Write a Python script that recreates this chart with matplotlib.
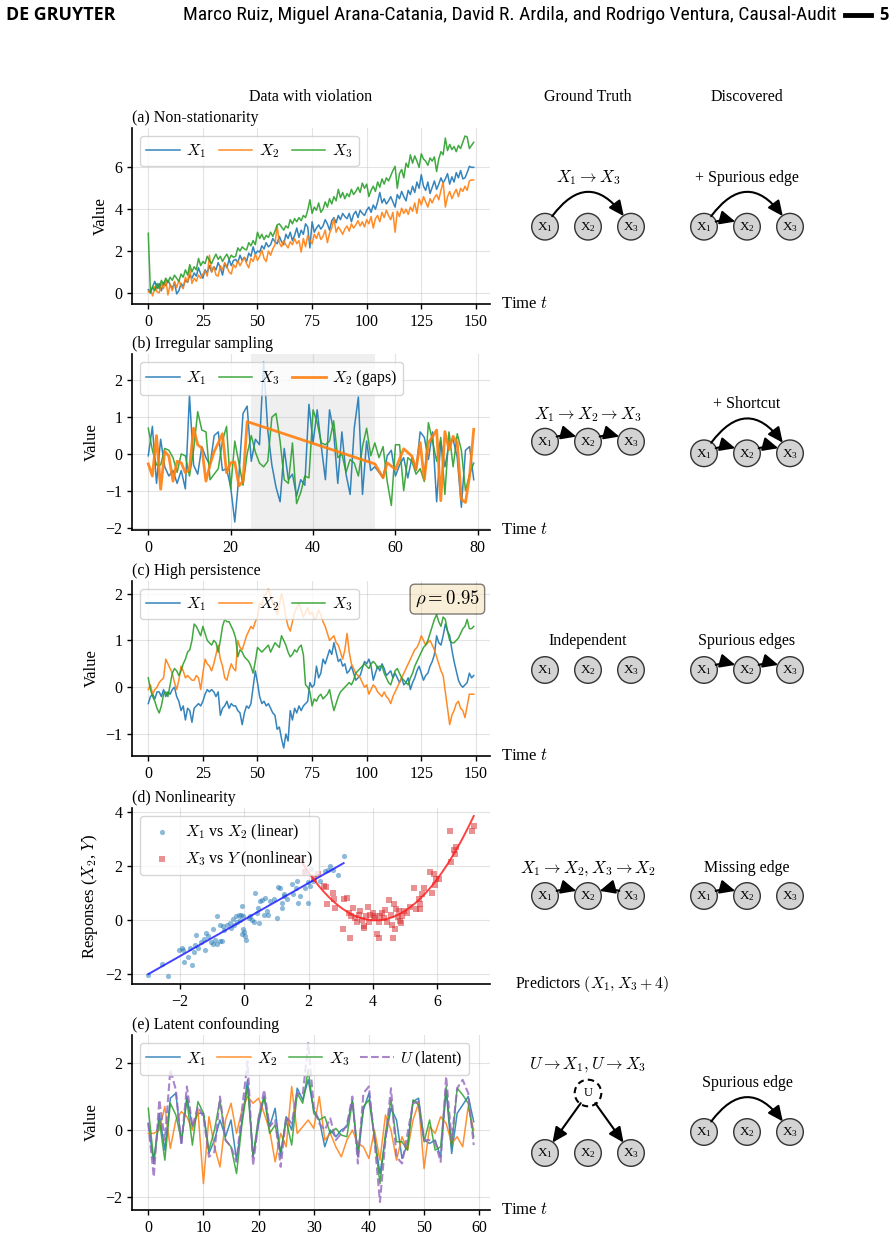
import numpy as np
import matplotlib
matplotlib.use("Agg")
import matplotlib.pyplot as plt
from matplotlib.patches import Circle, FancyArrowPatch
from matplotlib.lines import Line2D
from matplotlib import font_manager

# ======================= DATA =======================
# (a) Non-stationarity, t = 0..149
A_X1 = [0.15, 0.0, 0.3, 0.55, 0.2, 0.45, 0.1, 0.5, 0.35, 0.6,
        0.4, 0.2, 0.5, -0.05, 0.1, 0.45, 0.3, 0.6, 0.5, 0.85,
        0.7, 0.95, 0.8, 1.2, 0.9, 0.7, 1.1, 0.95, 1.3, 1.0,
        1.25, 1.1, 1.45, 1.2, 0.85, 1.4, 1.2, 1.6, 1.3, 1.55,
        1.6, 1.45, 1.8, 1.55, 1.7, 1.5, 1.9, 1.75, 2.2, 1.85,
        2.0, 1.95, 2.25, 2.1, 2.4, 2.2, 2.3, 2.6, 2.45, 2.35,
        2.7, 2.45, 2.3, 2.8, 2.6, 2.9, 2.5, 2.75, 3.1, 2.65,
        3.0, 2.8, 3.3, 3.15, 2.15, 3.4, 2.9, 3.1, 3.25, 3.05,
        3.2, 3.5, 3.3, 3.0, 3.45, 3.6, 3.35, 3.7, 3.5, 3.8,
        3.65, 3.55, 3.8, 3.4, 3.75, 3.9, 3.6, 3.95, 3.8, 3.7,
        3.95, 4.1, 3.85, 4.2, 4.0, 4.35, 4.8, 4.3, 4.5, 4.25,
        4.4, 4.6, 4.35, 4.1, 4.7, 4.5, 4.85, 4.6, 4.4, 4.9,
        4.7, 5.1, 4.8, 5.3, 5.0, 5.65, 5.1, 4.9, 5.3, 4.75,
        5.05, 5.35, 4.95, 5.2, 5.5, 5.25, 5.45, 5.7, 5.2, 5.55,
        5.3, 5.75, 5.5, 5.85, 5.45, 5.5, 5.75, 6.05, 6.0, 6.0]
A_X2 = [0.05, 0.15, -0.15, 0.3, 0.05, 0.0, 0.45, 0.2, 0.65, -0.1,
        0.4, 0.1, 0.55, 0.25, 0.6, 0.35, 0.2, 0.75, 0.5, 1.15,
        0.45, 0.7, 0.55, 0.85, 0.7, 0.9, 1.05, 0.8, 1.8, 1.0,
        1.25, 0.85, 0.8, 1.3, 1.1, 1.45, 1.25, 1.0, 0.9, 1.35,
        1.2, 1.55, 1.3, 1.5, 1.7, 1.4, 1.2, 1.65, 1.5, 1.85,
        1.55, 1.75, 2.05, 1.65, 1.5, 2.0, 1.8, 2.1, 2.3, 3.2,
        2.4, 2.2, 2.5, 2.3, 2.15, 2.45, 2.3, 2.6, 2.35, 2.5,
        1.95, 2.6, 2.2, 2.75, 2.5, 2.35, 2.8, 2.6, 2.9, 2.55,
        2.7, 3.0, 2.4, 2.85, 3.1, 3.55, 2.9, 3.15, 3.0, 2.8,
        3.05, 3.2, 2.95, 3.3, 3.1, 3.25, 3.45, 3.2, 3.4, 3.15,
        3.5, 3.3, 3.65, 3.1, 3.55, 3.7, 3.4, 3.85, 3.6, 3.95,
        3.7, 3.5, 3.85, 2.9, 3.9, 3.65, 4.05, 3.8, 4.0, 3.75,
        4.1, 3.9, 4.3, 3.8, 4.5, 4.2, 4.6, 4.35, 4.1, 4.5,
        4.3, 4.55, 4.7, 4.45, 4.9, 5.3, 4.1, 4.6, 4.85, 4.5,
        4.75, 4.95, 4.6, 5.0, 4.85, 5.1, 4.9, 5.35, 5.4, 5.4]
A_X3 = [2.85, 0.0, 0.3, 0.1, 0.45, 0.2, 0.6, 0.4, 0.7, 0.5,
        0.75, 0.6, 0.85, 0.7, 0.55, 0.9, 0.75, 1.1, 0.85, 1.35,
        1.0, 1.25, 1.1, 1.65, 1.3, 1.5, 1.4, 1.75, 1.55, 1.4,
        1.65, 1.85, 1.6, 1.75, 1.5, 1.7, 1.85, 1.6, 1.8, 1.7,
        1.75, 2.15, 2.0, 2.2, 2.1, 2.05, 2.4, 2.25, 2.5, 2.3,
        2.9, 2.6, 2.8, 2.55, 2.75, 2.65, 2.9, 2.7, 2.95, 3.25,
        3.3, 3.15, 3.0, 3.2, 3.1, 3.5, 3.3, 3.55, 3.4, 3.6,
        3.45, 3.7, 3.6, 3.95, 4.45, 3.8, 4.1, 3.95, 4.3, 3.85,
        4.0, 4.35, 4.1, 4.5, 4.25, 4.6, 4.4, 4.95, 4.55, 4.8,
        4.5, 4.75, 4.6, 4.95, 4.7, 4.85, 5.05, 4.8, 5.25, 5.0,
        5.2, 4.6, 4.9, 5.1, 4.85, 5.3, 5.05, 5.45, 5.2, 5.5,
        5.35, 5.6, 5.85, 6.05, 5.0, 5.7, 5.9, 5.5, 6.2, 6.0,
        6.6, 6.2, 6.55, 6.3, 6.0, 6.65, 6.4, 6.3, 6.1, 6.45,
        6.3, 6.5, 5.8, 6.4, 6.75, 6.6, 7.4, 6.8, 7.1, 6.85,
        7.0, 6.75, 7.05, 6.9, 7.2, 7.5, 7.45, 6.9, 7.05, 7.2]

# (b) Irregular sampling, t = 0..79 ; X2 observed only at B_X2_T
B_X1 = [-0.05, 0.75, -0.8, 0.4, -0.35, -0.6, -0.45, -0.8, -0.45, -0.95,
        1.6, -0.3, -0.55, 0.2, -0.1, -0.3, 0.5, 0.6, -0.45, -0.4,
        -0.9, -1.85, -0.6, 1.1, 1.3, -0.2, 0.4, 0.25, 2.5, 0.65,
        -0.3, -0.9, -1.3, 0.15, -0.7, -0.55, -1.15, -0.7, -0.85, 1.35,
        0.3, 1.2, 0.2, -0.7, 1.2, 0.6, -0.8, 0.6, -0.55, -1.1,
        0.7, 1.55, -1.1, 0.35, -0.45, -0.35, -0.5, -0.65, -0.05, 0.1,
        -0.6, -0.3, -0.1, -0.65, -0.1, -0.45, 0.6, 0.45, -0.15, 0.6,
        -1.3, 0.35, -0.35, 0.25, 0.4, -0.1, -1.45, 0.1, 0.2, -0.7]
B_X3 = [0.7, 0.1, -0.3, -0.3, 0.15, 0.1, -0.1, -0.5, 0.0, -0.05,
        -0.6, 0.1, 1.15, 0.65, 0.6, -0.7, -0.55, -0.4, 0.35, 0.75,
        -0.95, 0.35, -0.25, -0.85, 0.0, 0.5, 0.05, -0.25, -0.35, -0.2,
        1.0, 1.1, 0.35, -0.7, -0.8, 0.3, -1.35, -1.05, -0.6, -0.65,
        1.2, 0.85, 0.3, 0.25, 0.35, 0.9, -0.1, 0.0, -0.5, -0.15,
        -0.25, -0.6, 0.2, 0.7, -0.05, 0.3, -0.1, 0.2, -0.75, -1.4,
        0.25, 0.25, -1.0, -0.1, -0.2, -0.55, -0.4, -0.75, 0.85, 0.35,
        -0.2, 0.45, -1.1, 0.6, -0.35, 0.55, 0.1, -1.0, -0.55, -0.25]
B_X2_T = [0, 1, 2, 3, 4, 5, 6, 7, 8, 9, 10, 11, 12, 13, 14, 15, 16, 17, 18, 19,
          20, 21, 22, 23, 24, 55, 57, 58, 60, 62, 64, 65, 66, 67, 68, 70, 71,
          72, 73, 74, 75, 76, 77, 78, 79]
B_X2_V = [-0.27, -0.6, 0.5, -0.96, 0.07, -0.06, -0.74, -0.2, -0.24, -0.51,
          -0.42, 0.7, 0.25, 0.16, -0.74, -0.29, 0.07, 0.3, 0.55, -0.51,
          -0.24, -0.22, -0.87, -0.74, 0.88, -0.27, -0.65, -0.24, -0.42, 0.14,
          -0.06, -0.42, 0.31, -0.69, 0.3, 0.65, -1.27, 0.61, 0.12, 0.48,
          0.3, -1.23, -1.32, -0.6, 0.67]
B_GAP = [25, 55]

# (c) High persistence, t = 0..149
C_X1 = [-0.35, -0.2, -0.15, -0.25, -0.1, -0.1, -0.2, -0.05, -0.2, -0.1,
        -0.15, -0.05, 0.0, -0.2, -0.3, -0.5, -0.4, -0.7, -0.45, -0.5,
        -0.75, -0.45, -0.4, -0.35, -0.4, -0.3, -0.15, -0.05, -0.1, -0.05,
        -0.1, -0.2, -0.1, -0.6, -0.45, -0.4, -0.3, -0.45, -0.35, -0.4,
        -0.4, -0.5, -0.55, -0.8, -0.55, -0.4, -0.45, -0.35, 0.0, 0.35,
        0.1, -0.2, -0.35, -0.3, -0.4, -0.35, -0.45, -0.55, -0.6, -0.9,
        -0.85, -1.1, -1.3, -1.0, -1.15, -0.5, -0.7, -0.45, -0.55, -0.4,
        -0.5, -0.4, -0.35, -0.3, 0.1, 0.0, 0.05, 0.45, 0.2, 0.3,
        0.6, 0.5, 0.65, 0.8, 0.7, 0.95, 0.75, 0.55, 0.6, 0.45,
        0.5, 0.3, 0.35, 0.45, 0.3, 0.15, 0.2, 0.25, 0.4, 0.55,
        0.5, 0.6, 0.45, 0.15, 0.3, 0.45, 0.35, 0.5, 0.4, 0.25,
        0.3, 0.35, 0.2, 0.3, 0.2, 0.1, 0.2, 0.05, 0.1, 0.2,
        -0.05, 0.1, 0.2, 0.35, 0.45, 0.3, 0.15, 0.25, 0.3, 0.45,
        0.55, 0.7, 1.1, 0.95, 0.9, 1.1, 1.35, 1.2, 1.1, 0.8,
        0.55, 0.35, 0.15, 0.05, 0.0, 0.05, 0.1, 0.3, 0.2, 0.25]
C_X2 = [-0.05, 0.05, -0.15, -0.05, 0.0, 0.1, 0.15, 0.2, 0.6, 0.5,
        0.4, 0.3, 0.1, -0.05, 0.15, 0.45, 0.35, 0.2, 0.25, 0.2,
        0.15, 0.15, 0.25, 0.2, -0.05, 0.3, 0.6, 0.5, 0.45, 0.35,
        0.5, 0.7, 0.9, 0.6, 0.45, 0.2, 0.15, 0.35, 0.5, 0.4,
        0.35, 1.0, 0.85, 0.8, 0.95, 1.1, 1.2, 1.3, 1.25, 1.4,
        1.5, 1.8, 1.75, 1.95, 2.0, 2.1, 1.95, 1.8, 1.7, 1.55,
        1.75, 2.0, 1.8, 1.5, 1.3, 1.2, 1.4, 1.6, 1.7, 1.8,
        1.65, 1.5, 1.6, 1.7, 1.55, 1.6, 1.45, 1.5, 1.65, 1.55,
        1.4, 1.3, 1.15, 1.0, 1.05, 1.1, 0.95, 0.9, 0.75, 0.6,
        0.8, 1.15, 0.75, 0.5, 0.4, 0.3, 0.25, 0.2, 0.1, 0.0,
        0.05, -0.15, -0.05, 0.05, 0.0, -0.1, -0.15, -0.2, -0.1, -0.2,
        -0.25, -0.35, -0.2, -0.1, 0.0, 0.1, 0.2, 0.3, 0.4, 0.5,
        0.6, 0.7, 0.8, 0.85, 0.95, 1.1, 1.0, 0.9, 0.95, 1.0,
        0.9, 0.8, 0.65, 0.5, 0.35, 0.25, -0.1, -0.45, -0.8, -0.6,
        -0.5, -0.35, -0.3, -0.45, -0.5, -0.65, -0.4, -0.15, -0.15, -0.15]
C_X3 = [0.2, -0.05, -0.2, -0.3, -0.45, -0.55, -0.4, -0.15, -0.1, -0.2,
        0.05, 0.3, 0.4, 0.35, 0.25, 0.35, 0.5, 0.6, 0.75, 0.8,
        1.0, 1.35, 1.3, 1.2, 1.1, 1.3, 1.15, 1.0, 0.95, 0.9,
        1.0, 0.95, 0.75, 1.0, 1.3, 1.45, 1.4, 1.4, 1.3, 1.2,
        1.05, 0.65, 0.8, 0.75, 0.65, 0.6, 0.55, 0.45, 0.3, 0.55,
        0.85, 0.8, 0.75, 0.8, 0.85, 0.9, 0.75, 0.85, 0.95, 0.9,
        0.85, 1.1, 1.0, 0.9, 0.75, 0.65, 0.7, 0.8, 0.75, 0.85,
        0.9, 0.7, 0.05, 0.0, -0.1, -0.4, -0.25, -0.3, -0.2, -0.15,
        -0.25, -0.2, -0.15, -0.05, -0.3, -0.5, -0.35, -0.2, -0.1, -0.05,
        0.0, 0.05, 0.1, 0.05, 0.15, 0.3, 0.35, 0.4, 0.45, 0.5,
        0.45, 0.4, 0.5, 0.55, 0.5, 0.4, 0.45, 0.45, 0.3, 0.2,
        0.1, 0.05, 0.2, 0.35, 0.4, 0.3, 0.2, 0.15, 0.1, 0.05,
        0.2, 0.3, 0.45, 0.55, 0.65, 0.75, 0.85, 0.9, 1.0, 1.15,
        1.3, 1.45, 1.55, 1.4, 1.3, 1.5, 1.45, 1.2, 1.0, 0.95,
        0.95, 1.0, 1.05, 1.15, 1.25, 1.3, 1.45, 1.25, 1.25, 1.3]
C_RHO = 0.95

# (d) Nonlinearity: linear pair (X1, X2) and nonlinear pair (X3, Y), X3 drawn shifted by +4
D_X1 = [-2.99, -2.57, -2.39, -2.02, -1.95, -1.88, -1.9, -1.74, -1.69, -1.64,
        -1.58, -1.53, -1.5, -1.43, -1.36, -1.27, -1.22, -1.19, -1.12, -1.04,
        -0.98, -0.96, -0.91, -0.86, -0.84, -0.77, -0.75, -0.7, -0.67, -0.63,
        -0.55, -0.46, -0.42, -0.36, -0.32, -0.25, -0.23, -0.18, -0.15, -0.11,
        -0.08, -0.06, -0.05, -0.03, 0.0, 0.03, 0.06, 0.13, 0.18, 0.23,
        0.29, 0.34, 0.39, 0.44, 0.47, 0.49, 0.55, 0.62, 0.65, 0.7,
        0.75, 0.81, 0.91, 1.01, 1.06, 1.12, 1.17, 1.17, 1.22, 1.24,
        1.32, 1.48, 1.51, 1.62, 1.64, 1.67, 1.74, 1.86, 1.9, 1.97,
        1.98, 2.05, 2.07, 2.14, 2.36, 2.52, 2.59, 2.68, 2.76, 2.9, 3.09]
D_X2 = [-2.01, -1.6, -2.06, -1.1, -1.04, -1.53, -1.1, -1.35, -1.04, -1.66,
        -1.17, -0.92, -0.54, -1.04, -0.79, -0.69, -1.1, -0.48, -0.6, -0.79,
        -0.89, -0.32, -0.73, -0.89, 0.14, -0.77, -0.17, -0.77, -0.23, -0.35,
        -0.17, -0.11, -0.3, 0.05, -0.17, 0.14, -0.08, 0.2, 0.02, 0.2,
        -0.52, 0.51, 0.14, -0.32, -0.42, -0.6, -0.72, 0.08, 0.14, 0.02,
        -0.05, 1.01, 0.27, 0.45, -0.11, 0.7, 0.73, 0.2, 0.83, 0.33,
        0.2, 0.7, 0.77, 0.08, 1.23, 1.2, 0.45, 0.64, 0.89, 0.95,
        0.77, 1.33, 0.98, 1.17, 1.45, 0.64, 0.89, 1.83, 1.17, 0.64,
        1.39, 1.26, 1.89, 1.45, 1.45, 1.8, 1.85, 2.01, 1.85, 1.67, 2.38]
D_X3 = [-2.3, -2.1, -1.84, -1.72, -1.53, -1.46, -1.43, -1.25, -1.22, -1.17,
        -0.93, -0.91, -0.81, -0.75, -0.72, -0.68, -0.62, -0.55, -0.49, -0.44,
        -0.39, -0.34, -0.29, -0.26, -0.2, -0.16, -0.13, -0.08, 0.0, 0.05,
        0.08, 0.13, 0.18, 0.18, 0.23, 0.29, 0.34, 0.39, 0.44, 0.49,
        0.55, 0.6, 0.63, 0.65, 0.7, 0.73, 0.77, 0.81, 0.84, 0.88,
        0.91, 0.98, 1.07, 1.17, 1.27, 1.33, 1.43, 1.46, 1.48, 1.53,
        1.59, 1.79, 1.84, 1.9, 1.95, 1.98, 2.05, 2.39, 2.44, 2.52,
        2.57, 2.6, 3.09, 3.14]
D_Y = [2.3, 1.76, 1.51, 1.72, 1.26, 1.23, 0.6, 1.01, 0.77, 0.45,
       -0.32, 0.77, 0.83, 0.27, -0.67, 0.14, 0.45, 0.08, -0.05, 0.2,
       0.33, 0.02, -0.23, -0.3, 0.14, 0.48, -0.05, 0.2, 0.27, 0.08,
       0.14, -0.52, -0.67, -0.05, 0.14, 0.27, 0.08, 0.36, -0.07, 0.73,
       0.2, -0.17, -0.67, 0.58, -0.32, 0.42, 0.11, 0.33, -0.02, -0.11,
       0.14, 0.33, 0.27, 0.48, 1.2, 0.42, 0.77, 0.42, 0.58, 0.95,
       1.17, 1.76, 1.01, 1.7, 1.3, 1.51, 1.51, 3.29, 2.14, 2.57,
       2.45, 2.69, 3.29, 3.48]
D_SHIFT = 4

# (e) Latent confounding, t = 0..59
E_X1 = [0.2, -1.0, 0.5, -0.6, 0.95, 1.1, -0.4, 1.0, 0.1, 0.5,
        0.5, -0.7, -0.3, 0.3, -0.2, 0.3, -0.9, 0.3, 1.5, -0.8,
        0.2, 1.0, 0.1, 0.65, -0.8, 0.4, 0.0, 1.25, 0.9, 1.5,
        0.6, 0.3, -0.5, 0.0, -0.2, 0.0, 0.1, 0.9, -0.8, 0.6,
        1.1, -0.2, -1.3, -0.25, 0.65, 0.3, -0.85, -0.4, 0.85, 0.95,
        -0.3, -0.4, -0.3, -0.8, 1.2, -0.7, 0.5, 0.75, 1.0, 0.25]
E_X2 = [-0.1, -0.1, 0.0, 0.7, -0.55, 0.3, 0.55, 0.4, 0.0, 0.6,
        -1.6, 0.4, -0.5, -1.1, 0.3, 0.8, -0.1, 0.6, 1.0, 0.8,
        0.95, 0.5, 0.0, -0.95, -0.1, -0.5, 1.3, -0.1, 0.1, 0.3,
        0.05, 1.0, -0.3, -0.1, -0.5, -0.8, -0.3, 0.0, -0.4, -0.5,
        -0.85, 0.0, -0.9, 0.45, 0.0, -0.9, -0.2, -0.6, 0.3, 0.8,
        -1.15, 0.1, -0.1, 0.4, 0.2, -0.4, -0.2, -0.5, 0.7, 0.0]
E_X3 = [0.65, -0.9, 0.3, -0.9, 0.8, 0.45, -0.3, 0.9, -0.45, 0.85,
        0.5, -0.6, 0.0, 0.9, -0.3, -0.5, -1.3, 0.2, 1.3, -0.8,
        0.4, 1.0, -0.1, 0.15, -0.65, 0.3, -0.45, 1.1, 0.8, 1.8,
        0.5, 0.3, 0.4, -0.1, 0.05, -0.15, -0.2, 0.85, -0.7, 0.7,
        0.9, -0.2, -1.6, -0.1, 0.9, -0.35, -0.35, -0.6, 0.9, 0.75,
        -0.35, 0.3, -0.6, -0.5, 1.3, -0.5, 1.25, 1.05, 0.8, -0.2]
E_U = [0.2, -1.4, 0.9, -0.3, 1.8, 1.2, -0.45, 1.3, 0.1, 0.7,
       0.4, -0.8, -0.65, 1.0, -0.3, -0.5, -0.95, 0.6, 2.05, -1.05,
       0.3, 1.2, 0.1, 0.3, -1.1, 0.4, 0.2, 1.1, 1.05, 2.6,
       0.7, 0.2, 0.0, 0.35, -0.3, -0.1, 0.15, 1.0, -1.0, 1.1,
       1.3, -0.3, -2.15, -0.3, 1.25, -0.8, -1.0, -0.1, 0.8, 0.85,
       -0.3, -0.3, -0.35, -0.95, 1.6, -0.3, 1.25, 1.5, 1.1, -0.45]

# Graphs: edges as (source, target) node indices 0,1,2 -> X1,X2,X3
GT_LABELS = [r'$X_1 \rightarrow X_3$', r'$X_1 \rightarrow X_2 \rightarrow X_3$', 'Independent',
             r'$X_1 \rightarrow X_2, X_3 \rightarrow X_2$', r'$U \rightarrow X_1, U \rightarrow X_3$']
GT_EDGES = [[(0, 2)], [(0, 1), (1, 2)], [], [(0, 1), (2, 1)], []]
GT_LATENT = [[], [], [], [], [0, 2]]
DISC_LABELS = ['+ Spurious edge', '+ Shortcut', 'Spurious edges', 'Missing edge', 'Spurious edge']
DISC_EDGES = [[(0, 1), (0, 2)], [(0, 1), (1, 2), (0, 2)], [(0, 1), (1, 2)], [(0, 1)], [(0, 2)]]

PANEL_TITLES = ['(a) Non-stationarity', '(b) Irregular sampling', '(c) High persistence',
                '(d) Nonlinearity', '(e) Latent confounding']
COL_TITLES = ['Data with violation', 'Ground Truth', 'Discovered']

# ======================= STYLE =======================
plt.rcParams['font.family'] = ['Liberation Serif', 'DejaVu Serif']
plt.rcParams['mathtext.fontset'] = 'cm'
plt.rcParams['axes.unicode_minus'] = True

C_BLUE, C_ORANGE, C_GREEN, C_PURPLE = '#1f77b4', '#ff7f0e', '#2ca02c', '#9467bd'
TICK_FS, LAB_FS, TITLE_FS, LEG_FS = 11.5, 12, 11.5, 11.5

W, H = 891, 1236
fig = plt.figure(figsize=(W / 100, H / 100), dpi=100)


def add_ax(top, bottom, left=132, right=490):
    ax = fig.add_axes([left / W, 1 - bottom / H, (right - left) / W, (bottom - top) / H])
    for s in ('top', 'right'):
        ax.spines[s].set_visible(False)
    for s in ('left', 'bottom'):
        ax.spines[s].set_linewidth(1.2)
    ax.grid(True, color='#b0b0b0', alpha=0.35, lw=0.8)
    ax.set_axisbelow(True)
    ax.tick_params(labelsize=TICK_FS, length=3.5, width=1)
    return ax


def side_xlabel(ax, text, xpos, fs=LAB_FS):
    ax.set_xlabel(text, fontsize=fs, ha='left', va='center')
    ax.xaxis.set_label_coords(xpos, 0)


def legend(ax, **kw):
    return ax.legend(loc='upper left', fontsize=LEG_FS, frameon=True, framealpha=0.8,
                     edgecolor='#cccccc', borderpad=0.4, handletextpad=0.4, **kw)


TOPS = [128, 354, 581, 808, 1035]
BOTS = [304, 530, 756, 984, 1210]
LW = 1.1

# ---- (a)
ax = add_ax(TOPS[0], BOTS[0])
t = np.arange(len(A_X1))
ax.plot(t, A_X1, color=C_BLUE, lw=LW, alpha=0.9, label='$X_1$')
ax.plot(t, A_X2, color=C_ORANGE, lw=LW, alpha=0.9, label='$X_2$')
ax.plot(t, A_X3, color=C_GREEN, lw=LW, alpha=0.9, label='$X_3$')
ax.set_xticks([0, 25, 50, 75, 100, 125, 150])
ax.set_yticks([0, 2, 4, 6])
ax.set_ylabel('Value', fontsize=LAB_FS)
side_xlabel(ax, 'Time $t$', 1.031)
ax.set_title(PANEL_TITLES[0], loc='left', fontsize=TITLE_FS, pad=4)
legend(ax, ncol=3, columnspacing=0.8, handlelength=2.1)

# ---- (b)
ax = add_ax(TOPS[1], BOTS[1])
t = np.arange(len(B_X1))
ax.axvspan(B_GAP[0], B_GAP[1], color='#d9d9d9', alpha=0.4, lw=0, zorder=0)
ax.plot(t, B_X1, color=C_BLUE, lw=LW, alpha=0.9, label='$X_1$')
ax.plot(t, B_X3, color=C_GREEN, lw=LW, alpha=0.9, label='$X_3$')
ax.plot(B_X2_T, B_X2_V, color=C_ORANGE, lw=2, alpha=0.9, label='$X_2$ (gaps)')
ax.set_xticks([0, 20, 40, 60, 80])
ax.set_yticks([-2, -1, 0, 1, 2])
ax.set_ylabel('Value', fontsize=LAB_FS)
side_xlabel(ax, 'Time $t$', 1.031)
ax.set_title(PANEL_TITLES[1], loc='left', fontsize=TITLE_FS, pad=4)
legend(ax, ncol=3, columnspacing=0.8, handlelength=2.1)

# ---- (c)
ax = add_ax(TOPS[2], BOTS[2])
t = np.arange(len(C_X1))
ax.plot(t, C_X1, color=C_BLUE, lw=LW, alpha=0.9, label='$X_1$')
ax.plot(t, C_X2, color=C_ORANGE, lw=LW, alpha=0.9, label='$X_2$')
ax.plot(t, C_X3, color=C_GREEN, lw=LW, alpha=0.9, label='$X_3$')
ax.set_xticks([0, 25, 50, 75, 100, 125, 150])
ax.set_yticks([-1, 0, 1, 2])
ax.set_ylabel('Value', fontsize=LAB_FS)
side_xlabel(ax, 'Time $t$', 1.031)
ax.set_title(PANEL_TITLES[2], loc='left', fontsize=TITLE_FS, pad=4)
legend(ax, ncol=3, columnspacing=0.8, handlelength=2.1)
ax.text(0.972, 0.955, r'$\rho = %.2f$' % C_RHO, transform=ax.transAxes, ha='right', va='top',
        fontsize=13.5, bbox=dict(boxstyle='round,pad=0.25', facecolor='wheat', alpha=0.5, edgecolor='black'))

# ---- (d)
ax = add_ax(TOPS[3], BOTS[3])
dx1 = np.array(D_X1); dx2 = np.array(D_X2)
dx3 = np.array(D_X3) + D_SHIFT; dy = np.array(D_Y)
ax.scatter(dx1, dx2, s=14, color=C_BLUE, alpha=0.5, lw=0, label=r'$X_1$ vs $X_2$ (linear)')
ax.scatter(dx3, dy, s=14, marker='s', color='#d62728', alpha=0.5, lw=0, label=r'$X_3$ vs $Y$ (nonlinear)')
lin = np.polyfit(dx1, dx2, 1)
xs = np.linspace(dx1.min(), dx1.max(), 50)
ax.plot(xs, np.polyval(lin, xs), color='#2020ff', lw=1.4, alpha=0.85)
quad = np.polyfit(dx3, dy, 2)
xs = np.linspace(dx3.min(), dx3.max(), 100)
ax.plot(xs, np.polyval(quad, xs), color='#ff2020', lw=1.4, alpha=0.85)
ax.set_xticks([-2, 0, 2, 4, 6])
ax.set_yticks([-2, 0, 2, 4])
ax.set_ylabel('Responses ($X_2$, $Y$)', fontsize=LAB_FS)
side_xlabel(ax, 'Predictors $(X_1, X_3 + 4)$', 1.07, fs=11.5)
ax.set_title(PANEL_TITLES[3], loc='left', fontsize=TITLE_FS, pad=4)
legend(ax, ncol=1)

# ---- (e)
ax = add_ax(TOPS[4], BOTS[4])
t = np.arange(len(E_X1))
ax.plot(t, E_X1, color=C_BLUE, lw=LW, alpha=0.85, label='$X_1$')
ax.plot(t, E_X2, color=C_ORANGE, lw=LW, alpha=0.85, label='$X_2$')
ax.plot(t, E_X3, color=C_GREEN, lw=LW, alpha=0.85, label='$X_3$')
ax.plot(t, E_U, color=C_PURPLE, lw=1.5, ls='--', alpha=0.8, label='$U$ (latent)')
ax.set_xticks([0, 10, 20, 30, 40, 50, 60])
ax.set_yticks([-2, 0, 2])
ax.set_ylabel('Value', fontsize=LAB_FS)
side_xlabel(ax, 'Time $t$', 1.031)
ax.set_title(PANEL_TITLES[4], loc='left', fontsize=TITLE_FS, pad=4)
legend(ax, ncol=4, columnspacing=0.7, handlelength=2.1)

# ---- column titles
for txt, cx in zip(COL_TITLES, [311, 588, 747]):
    fig.text(cx / W, 1 - 97 / H, txt, ha='center', va='center', fontsize=TITLE_FS)

# ======================= GRAPHS =======================
gax = fig.add_axes([0, 0, 1, 1], zorder=5)
gax.set_xlim(0, W); gax.set_ylim(H, 0); gax.axis('off')
gax.patch.set_alpha(0)

NODE_R, SPACING = 13.3, 43
GT_CX, DISC_CX = 588, 747
# row layout (node row y, label y) for ground truth and discovered
GT_LAYOUT = [(226.7, 178), (441.7, 415), (670, 641), (896, 868), (1153, 1065)]
DISC_LAYOUT = [(226.7, 178), (453.3, 404), (670, 641), (896, 868), (1132, 1083)]
U_Y = 1093
ARROW = '-|>,head_length=0.65,head_width=0.3'


def arrow(pa, pb, ca, cb, rad):
    gax.add_patch(FancyArrowPatch(posA=pa, posB=pb, patchA=ca, patchB=cb, arrowstyle=ARROW,
                                  mutation_scale=14, connectionstyle='arc3,rad=%g' % rad,
                                  lw=1.5, color='black', shrinkA=0, shrinkB=0, zorder=4))


def draw_graph(cx, cy, edges, label, label_y, latent=()):
    pos, circ = [], []
    for i in range(3):
        p = (cx + (i - 1) * SPACING, cy)
        c = Circle(p, NODE_R, fc='#d3d3d3', ec='#333333', lw=1.0, zorder=3)
        gax.add_patch(c)
        gax.text(p[0], p[1] + 0.5, r'$\mathregular{X_%d}$' % (i + 1), ha='center', va='center',
                 fontsize=9.5, zorder=5)
        pos.append(p); circ.append(c)
    for a, b in edges:
        d = b - a
        if abs(d) == 2:
            rad = -0.8
        else:
            rad = -0.3 if d > 0 else 0.3
        arrow(pos[a], pos[b], circ[a], circ[b], rad)
    if latent:
        up = (cx, U_Y)
        uc = Circle(up, NODE_R, fc='white', ec='black', lw=1.5, ls=(0, (3, 2)), zorder=3)
        gax.add_patch(uc)
        gax.text(up[0], up[1], 'U', ha='center', va='center', fontsize=9, zorder=5)
        for k in latent:
            arrow(up, pos[k], uc, circ[k], 0)
    fs = 12 if label.startswith('$') else 11.5
    gax.text(cx, label_y, label, ha='center', va='center', fontsize=fs, zorder=5)


for r in range(5):
    draw_graph(GT_CX, GT_LAYOUT[r][0], GT_EDGES[r], GT_LABELS[r], GT_LAYOUT[r][1], GT_LATENT[r])
    draw_graph(DISC_CX, DISC_LAYOUT[r][0], DISC_EDGES[r], DISC_LABELS[r], DISC_LAYOUT[r][1])

# ======================= HEADER =======================
avail = {f.name for f in font_manager.fontManager.ttflist}
cond = next((f for f in ['Liberation Sans Narrow', 'Roboto Condensed', 'Open Sans Condensed'] if f in avail),
            'Roboto')
renderer = fig.canvas.get_renderer()


def fit_text(x, y, s, target_w, **kw):
    tx = fig.text(x / W, 1 - y / H, s, **kw)
    w = tx.get_window_extent(renderer).width
    tx.set_fontsize(tx.get_fontsize() * target_w / w)
    return tx


fit_text(6, 15, 'DE GRUYTER', 109, family=['Open Sans', 'DejaVu Sans'], fontweight='bold',
         fontsize=11, ha='left', va='center')
fit_text(183, 15, 'Marco Ruiz, Miguel Arana-Catania, David R. Ardila, and Rodrigo Ventura, Causal-Audit',
         650, family=[cond, 'DejaVu Sans'], fontsize=11, ha='left', va='center')
fig.add_artist(Line2D([845 / W, 871 / W], [1 - 15 / H] * 2, lw=3.5, color='black'))
fig.text(884 / W, 1 - 15 / H, '5', family=['Open Sans', 'DejaVu Sans'], fontweight='bold',
         fontsize=12, ha='center', va='center')

fig.savefig('out.png', dpi=100)
